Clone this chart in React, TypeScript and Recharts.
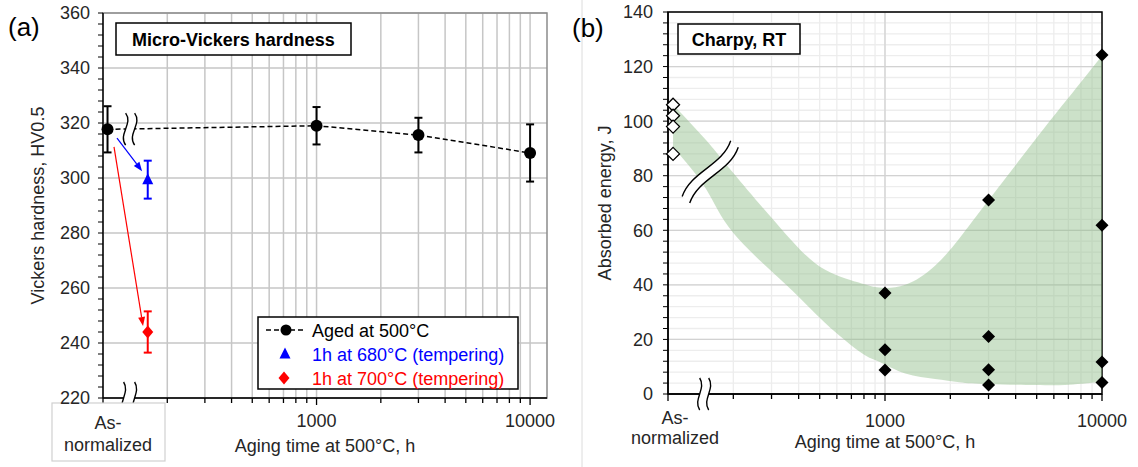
import React from 'react';
import {
  ComposedChart,
  Scatter,
  Area,
  XAxis,
  YAxis,
  CartesianGrid,
  ErrorBar,
  ReferenceDot,
  ReferenceLine,
  ReferenceArea,
} from 'recharts';

const FONT = '"Liberation Sans", Arial, Helvetica, sans-serif';

// (a) Micro-Vickers hardness
const agedHours = [105, 1000, 3000, 10000];
const agedHv = [317.7, 319, 315.6, 309.1];
const agedHvErr = [8.4, 6.8, 6.3, 10.4];

const temperHours = [162];
const temper680Hv = [299.4];
const temper680Err = [6.9];
const temper700Hv = [244];
const temper700Err = [7.5];

// (b) Charpy, RT
const asNormHours = [105.5, 105.5, 105.5, 105.5];
const asNormJ = [106, 102, 98, 88];
const charpyHours = [1000, 1000, 1000, 3000, 3000, 3000, 3000, 10000, 10000, 10000, 10000];
const charpyJ = [37, 16.2, 8.8, 71.1, 21.1, 8.9, 3.3, 124.2, 61.8, 11.7, 4.2];

// scatter band envelope
const bandHours = [105.5, 150, 200, 350, 530, 780, 940, 1240, 1700, 2200, 3000, 4900, 6750, 10000];
const bandUpper = [106, 93, 81, 58.5, 45.5, 40.5, 39, 40, 47, 57, 71, 93, 107, 124];
const bandLower = [90.5, 75, 59, 40, 26, 15, 11.8, 7.5, 5.5, 4.3, 3.6, 3.3, 3.3, 4.5];

const logTicks = [100, 200, 300, 400, 500, 600, 700, 800, 900, 1000, 2000, 3000, 4000, 5000, 6000, 7000, 8000, 9000, 10000];
const hvLabels = [220, 240, 260, 280, 300, 320, 340, 360];
const jLabels = [0, 20, 40, 60, 80, 100, 120, 140];

// 4 minor steps between labelled ticks
const withMinor = (labels: number[]) => {
  const out: number[] = [];
  for (let i = 0; i < labels.length - 1; i++) {
    for (let k = 0; k < 5; k++) out.push(labels[i] + ((labels[i + 1] - labels[i]) * k) / 5);
  }
  out.push(labels[labels.length - 1]);
  return out;
};
const hvTicks = withMinor(hvLabels);
const jTicks = withMinor(jLabels);

const agedData = agedHours.map((x, i) => ({ x, y: agedHv[i], err: agedHvErr[i] }));
const t680Data = temperHours.map((x, i) => ({ x, y: temper680Hv[i], err: temper680Err[i] }));
const t700Data = temperHours.map((x, i) => ({ x, y: temper700Hv[i], err: temper700Err[i] }));
const asNormData = asNormHours.map((x, i) => ({ x, y: asNormJ[i] }));
const charpyData = charpyHours.map((x, i) => ({ x, y: charpyJ[i] }));
const bandData = bandHours.map((x, i) => ({ x, band: [bandLower[i], bandUpper[i]] }));

const textCol = '#262626';

const makeXTick = (o: { labelDy: number; asDx: number; asDy: [number, number]; boxed: boolean }) => (props: any) => {
  const { x, y, payload } = props;
  const v = payload.value;
  const major = v === 100 || v === 1000 || v === 10000;
  return (
    <g>
      <line x1={x} y1={y} x2={x} y2={y + (major ? 7 : 5)} stroke="#000" strokeWidth={1.3} />
      {v === 100 && (
        <g>
          {o.boxed && <rect x={x - 51} y={y + 5} width={113} height={58} fill="#fff" stroke="#d0d0d0" strokeWidth={1.2} />}
          <text x={x + o.asDx} y={y + o.asDy[0]} textAnchor="middle" fontSize={18} fill={textCol} fontFamily={FONT}>As-</text>
          <text x={x + o.asDx} y={y + o.asDy[1]} textAnchor="middle" fontSize={18} fill={textCol} fontFamily={FONT}>normalized</text>
        </g>
      )}
      {(v === 1000 || v === 10000) && (
        <text x={x} y={y + o.labelDy} textAnchor="middle" fontSize={18} fill={textCol} fontFamily={FONT}>{v}</text>
      )}
    </g>
  );
};

// axis break "wavy double line"
const breakMark = (angle: number, half: number, wig: number, gap: number) => (p: any) => {
  const { cx, cy } = p;
  const a = -gap / 2;
  const b = gap / 2;
  const curve = (u: number) => `M${u},${-half} C${u + wig},${-half / 3} ${u - wig},${half / 3} ${u},${half}`;
  const fillD = `M${a},${-half} C${a + wig},${-half / 3} ${a - wig},${half / 3} ${a},${half} L${b},${half} C${b - wig},${half / 3} ${b + wig},${-half / 3} ${b},${-half} Z`;
  return (
    <g transform={`translate(${cx},${cy}) rotate(${angle})`}>
      <path d={fillD} fill="#fff" stroke="none" />
      <path d={curve(a)} fill="none" stroke="#000" strokeWidth={1.4} />
      <path d={curve(b)} fill="none" stroke="#000" strokeWidth={1.4} />
    </g>
  );
};

const arrowShape = (color: string) => (p: any) => {
  const { x1, y1, x2, y2 } = p;
  const ang = Math.atan2(y2 - y1, x2 - x1);
  const L = 9;
  const W = 3.5;
  const bx = x2 - L * Math.cos(ang);
  const by = y2 - L * Math.sin(ang);
  const px = -Math.sin(ang) * W;
  const py = Math.cos(ang) * W;
  return (
    <g>
      <line x1={x1} y1={y1} x2={bx} y2={by} stroke={color} strokeWidth={1.2} />
      <polygon points={`${x2},${y2} ${bx + px},${by + py} ${bx - px},${by - py}`} fill={color} />
    </g>
  );
};

const circleShape = (p: any) => <circle cx={p.cx} cy={p.cy} r={6} fill="#000" />;
const triShape = (p: any) => (
  <polygon points={`${p.cx},${p.cy - 6.5} ${p.cx - 5.5},${p.cy + 4.5} ${p.cx + 5.5},${p.cy + 4.5}`} fill="#0000ff" />
);
const redDiamond = (p: any) => (
  <polygon points={`${p.cx},${p.cy - 6.5} ${p.cx + 5.5},${p.cy} ${p.cx},${p.cy + 6.5} ${p.cx - 5.5},${p.cy}`} fill="#ff0000" />
);
const blackDiamond = (p: any) => (
  <polygon points={`${p.cx},${p.cy - 6.5} ${p.cx + 6.5},${p.cy} ${p.cx},${p.cy + 6.5} ${p.cx - 6.5},${p.cy}`} fill="#000" />
);
const openDiamond = (p: any) => (
  <polygon points={`${p.cx},${p.cy - 6.5} ${p.cx + 6.5},${p.cy} ${p.cx},${p.cy + 6.5} ${p.cx - 6.5},${p.cy}`} fill="#fff" stroke="#000" strokeWidth={1.3} />
);

const yTickStyle = { fontSize: 18, fill: textCol, fontFamily: FONT };

const HardnessChart = () => (
  <ComposedChart width={560} height={467} margin={{ top: 13, right: 13, bottom: 9, left: 43 }}>
    <CartesianGrid stroke="#c6c6c6" strokeWidth={1.5} horizontalValues={hvLabels} verticalValues={logTicks.slice(1)} />
    <ReferenceArea x1={100} x2={12000} y1={220} y2={360} fill="none" fillOpacity={0} stroke="#8c8c8c" strokeWidth={1.5} ifOverflow="visible" />
    <XAxis
      type="number"
      dataKey="x"
      scale="log"
      domain={[100, 12000]}
      ticks={logTicks}
      interval={0}
      tickSize={0}
      tickMargin={0}
      tickLine={false}
      height={60}
      axisLine={{ stroke: '#000', strokeWidth: 1.4 }}
      tick={makeXTick({ labelDy: 29, asDx: 5, asDy: [30.5, 53], boxed: true })}
    />
    <YAxis
      type="number"
      dataKey="y"
      domain={[220, 360]}
      ticks={hvTicks}
      interval={0}
      width={60}
      tickSize={5}
      tickMargin={8}
      tickFormatter={(v: number) => (hvLabels.includes(v) ? String(v) : '')}
      axisLine={{ stroke: '#000', strokeWidth: 1.4 }}
      tickLine={{ stroke: '#000' }}
      tick={yTickStyle}
    />
    <Scatter
      data={agedData}
      dataKey="y"
      isAnimationActive={false}
      line={{ stroke: '#000', strokeWidth: 1.5, strokeDasharray: '5 3' }}
      lineType="joint"
      shape={circleShape}
    >
      <ErrorBar dataKey="err" direction="y" width={4} stroke="#000" strokeWidth={2} />
    </Scatter>
    <Scatter data={t680Data} dataKey="y" isAnimationActive={false} shape={triShape}>
      <ErrorBar dataKey="err" direction="y" width={4} stroke="#0000ff" strokeWidth={2} />
    </Scatter>
    <Scatter data={t700Data} dataKey="y" isAnimationActive={false} shape={redDiamond}>
      <ErrorBar dataKey="err" direction="y" width={4} stroke="#ff0000" strokeWidth={2} />
    </Scatter>
    <ReferenceLine segment={[{ x: 116.3, y: 314.5 }, { x: 152.4, y: 302.5 }]} shape={arrowShape('#0000ff')} />
    <ReferenceLine segment={[{ x: 112.6, y: 311.3 }, { x: 154, y: 246.2 }]} shape={arrowShape('#ff0000')} />
    <ReferenceDot x={134} y={317.8} r={0} ifOverflow="visible" zIndex={1000} shape={breakMark(0, 16, 8, 9)} />
    <ReferenceDot x={132.5} y={220} r={0} ifOverflow="visible" zIndex={1000} shape={breakMark(0, 16, 7, 11)} />
  </ComposedChart>
);

const CharpyChart = () => (
  <ComposedChart width={578} height={467} data={bandData} margin={{ top: 12, right: 36, bottom: 13, left: 48 }}>
    <CartesianGrid stroke="#ededed" strokeWidth={1.3} horizontalValues={jTicks} verticalValues={logTicks} />
    <CartesianGrid stroke="#d2d2d2" strokeWidth={1.3} horizontalValues={jLabels} verticalValues={[1000]} />
    <ReferenceArea x1={100} x2={10000} y1={0} y2={140} fill="none" fillOpacity={0} stroke="#000" strokeWidth={1.5} ifOverflow="visible" />
    <XAxis
      type="number"
      dataKey="x"
      scale="log"
      domain={[100, 10000]}
      ticks={logTicks}
      interval={0}
      tickSize={0}
      tickMargin={0}
      tickLine={false}
      height={60}
      axisLine={{ stroke: '#000', strokeWidth: 1.4 }}
      tick={makeXTick({ labelDy: 32.5, asDx: 7, asDy: [29.5, 50], boxed: false })}
    />
    <YAxis
      type="number"
      dataKey="y"
      domain={[0, 140]}
      ticks={jTicks}
      interval={0}
      width={60}
      tickSize={5}
      tickMargin={10}
      tickFormatter={(v: number) => (jLabels.includes(v) ? String(v) : '')}
      axisLine={{ stroke: '#000', strokeWidth: 1.4 }}
      tickLine={{ stroke: '#000' }}
      tick={yTickStyle}
    />
    <Area
      dataKey="band"
      type="natural"
      stroke="none"
      fill="#8fbc88"
      fillOpacity={0.45}
      isAnimationActive={false}
      dot={false}
      activeDot={false}
    />
    <Scatter data={asNormData} dataKey="y" isAnimationActive={false} shape={openDiamond} />
    <Scatter data={charpyData} dataKey="y" isAnimationActive={false} shape={blackDiamond} />
    <ReferenceDot x={156.5} y={81.4} r={0} ifOverflow="visible" zIndex={1000} shape={breakMark(41, 37, 10, 10)} />
    <ReferenceDot x={146.8} y={0} r={0} ifOverflow="visible" zIndex={1000} shape={breakMark(0, 16, 7, 9)} />
  </ComposedChart>
);

const Overlay = () => (
  <svg width={1138} height={467} style={{ position: 'absolute', left: 0, top: 0, pointerEvents: 'none' }} fontFamily={FONT}>
    <line x1={582} y1={0} x2={582} y2={467} stroke="#dcdcdc" strokeWidth={1} />
    {/* panel (a) */}
    <text x={8} y={36} fontSize={26} fill="#000">(a)</text>
    <rect x={116} y={23} width={235} height={32} fill="#fff" stroke="#000" strokeWidth={1.5} />
    <text x={233.5} y={45.5} fontSize={18} fontWeight="bold" textAnchor="middle" fill="#000">Micro-Vickers hardness</text>
    <text transform="translate(43.5,205.5) rotate(-90)" fontSize={18} textAnchor="middle" fill={textCol}>Vickers hardness, HV0.5</text>
    <text x={325} y={452} fontSize={18} textAnchor="middle" fill={textCol}>Aging time at 500°C, h</text>
    <rect x={258} y={317} width={260} height={72} fill="#fff" stroke="#000" strokeWidth={1.5} />
    <line x1={266} y1={330} x2={306} y2={330} stroke="#000" strokeWidth={1.5} strokeDasharray="5 3" />
    <circle cx={286} cy={330} r={5.5} fill="#000" />
    <text x={312} y={336.5} fontSize={18} fill="#000">Aged at 500°C</text>
    <polygon points="285,347.5 279.5,358.5 290.5,358.5" fill="#0000ff" />
    <text x={312} y={360.5} fontSize={18} fill="#0000ff">1h at 680°C (tempering)</text>
    <polygon points="284,371.5 289.5,378 284,384.5 278.5,378" fill="#ff0000" />
    <text x={312} y={384.5} fontSize={18} fill="#ff0000">1h at 700°C (tempering)</text>
    {/* panel (b) */}
    <text x={572} y={37} fontSize={26} fill="#000">(b)</text>
    <rect x={678} y={24} width={122} height={30} fill="#fff" stroke="#000" strokeWidth={1.5} />
    <text x={739} y={45.5} fontSize={18} fontWeight="bold" textAnchor="middle" fill="#000">Charpy, RT</text>
    <text transform="translate(610.5,203) rotate(-90)" fontSize={18} textAnchor="middle" fill={textCol}>Absorbed energy, J</text>
    <text x={885} y={448} fontSize={18} textAnchor="middle" fill={textCol}>Aging time at 500°C, h</text>
  </svg>
);

export default function App() {
  return (
    <div style={{ position: 'absolute', left: 0, top: 0, width: 1138, height: 467, background: '#fff', fontFamily: FONT }}>
      <div style={{ position: 'absolute', left: 0, top: 0 }}>
        <HardnessChart />
      </div>
      <div style={{ position: 'absolute', left: 560, top: 0 }}>
        <CharpyChart />
      </div>
      <Overlay />
    </div>
  );
}
